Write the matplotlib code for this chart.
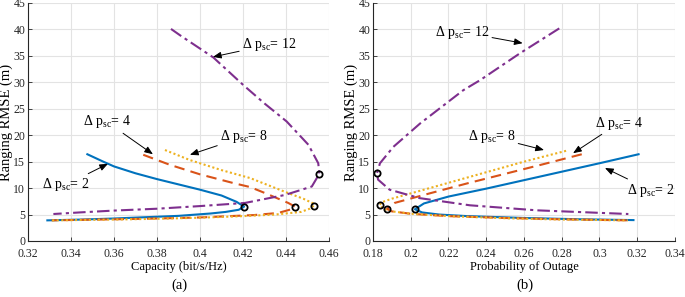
import matplotlib
matplotlib.use("Agg")
import matplotlib.pyplot as plt

plt.rcParams['font.family'] = ['Liberation Serif', 'DejaVu Serif']
plt.rcParams['mathtext.fontset'] = 'custom'
plt.rcParams['mathtext.rm'] = 'Liberation Serif'
plt.rcParams['mathtext.it'] = 'Liberation Serif:italic'

# ---------------- data: panel (a) Capacity vs RMSE ----------------
cap_p2 = [0.3476, 0.355, 0.36, 0.37, 0.38, 0.39, 0.40, 0.41, 0.417, 0.4205,
          0.418, 0.412, 0.405, 0.39, 0.375, 0.36, 0.345, 0.329]
rmse_a_p2 = [16.4, 15.0, 14.1, 12.8, 11.7, 10.7, 9.7, 8.6, 7.4, 6.5,
             5.9, 5.5, 5.2, 4.75, 4.5, 4.25, 4.05, 3.9]
cap_p4 = [0.3736, 0.386, 0.40, 0.416, 0.4233, 0.43, 0.441, 0.4442,
          0.4425, 0.4364, 0.425, 0.40, 0.38, 0.36, 0.345, 0.331]
rmse_a_p4 = [16.3, 14.4, 12.6, 10.9, 10.2, 9.1, 7.2, 6.5,
             6.0, 5.3, 4.9, 4.45, 4.25, 4.1, 4.0, 3.9]
cap_p8 = [0.3837, 0.3953, 0.41, 0.4233, 0.4395, 0.448, 0.4527, 0.453,
          0.451, 0.447, 0.435, 0.42, 0.40, 0.38, 0.36, 0.345, 0.331]
rmse_a_p8 = [17.2, 15.3, 13.4, 11.9, 9.3, 8.0, 7.1, 6.7,
             6.1, 5.5, 5.0, 4.7, 4.4, 4.2, 4.05, 3.97, 3.9]
cap_p12 = [0.3865, 0.3907, 0.4062, 0.4201, 0.43, 0.4403, 0.4504, 0.455, 0.4555,
           0.452, 0.4395, 0.421, 0.40, 0.38, 0.36, 0.344, 0.3318]
rmse_a_p12 = [40.1, 38.9, 34.7, 29.5, 26.0, 22.6, 18.2, 14.7, 12.7,
              10.3, 8.7, 7.2, 6.6, 6.1, 5.75, 5.4, 5.1]
mark_cap = [0.4205, 0.4442, 0.453, 0.4555]
mark_rmse_a = [6.5, 6.5, 6.7, 12.7]

# ---------------- data: panel (b) Outage vs RMSE ----------------
out_p2 = [0.3207, 0.30, 0.28, 0.26, 0.24, 0.22, 0.207, 0.2022,
          0.206, 0.215, 0.23, 0.26, 0.29, 0.318]
rmse_b_p2 = [16.4, 14.7, 13.1, 11.5, 9.9, 8.4, 7.1, 6.0,
             5.4, 5.0, 4.7, 4.35, 4.1, 3.95]
out_p4 = [0.2906, 0.27, 0.25, 0.23, 0.21, 0.1915, 0.1874,
          0.19, 0.20, 0.22, 0.25, 0.28, 0.315]
rmse_b_p4 = [16.4, 14.5, 12.7, 10.9, 9.0, 7.2, 6.06,
             5.6, 5.15, 4.7, 4.35, 4.1, 3.9]
out_p8 = [0.2823, 0.26, 0.24, 0.22, 0.20, 0.19, 0.1845, 0.1835,
          0.186, 0.19, 0.20, 0.22, 0.25, 0.28, 0.315]
rmse_b_p8 = [17.05, 15.0, 13.0, 11.0, 9.0, 8.0, 7.3, 6.75,
             6.0, 5.6, 5.15, 4.7, 4.3, 4.05, 3.9]
out_p12 = [0.2787, 0.2579, 0.2367, 0.2278, 0.2049, 0.1908, 0.1837, 0.1821,
           0.1827, 0.1888, 0.2048, 0.2313, 0.2667, 0.3153]
rmse_b_p12 = [40.2, 35.5, 30.4, 28.5, 22.2, 17.8, 14.7, 12.8,
              11.6, 9.7, 8.1, 6.75, 5.8, 5.1]
mark_out = [0.2022, 0.1874, 0.1835, 0.1821]
mark_rmse_b = [6.0, 6.06, 6.75, 12.8]

labels = [r'$\Delta$ p$_{\rm sc}$= 2', r'$\Delta$ p$_{\rm sc}$= 4',
          r'$\Delta$ p$_{\rm sc}$= 8', r'$\Delta$ p$_{\rm sc}$= 12']

colors = ['#0072BD', '#D95319', '#EDB120', '#7E2F8E']
styles = ['-', (0, (5, 3)), (0, (1, 1.2)), (0, (6, 2, 1.5, 2))]

fig = plt.figure(figsize=(6.85, 2.97), dpi=100)
axa = fig.add_axes([0.0409, 0.1886, 0.4394, 0.8013])
axb = fig.add_axes([0.5445, 0.1886, 0.4409, 0.8013])

def style_axes(ax, xlim, xticks, xlabel):
    ax.set_xlim(*xlim)
    ax.set_ylim(0, 45)
    ax.set_xticks(xticks)
    ax.set_xticklabels([('%g' % t) for t in xticks])
    ax.set_yticks(range(0, 46, 5))
    ax.grid(True, color='#e3e3e3', linewidth=0.8)
    ax.set_axisbelow(True)
    for s in ['top', 'right']:
        ax.spines[s].set_visible(False)
    for s in ['left', 'bottom']:
        ax.spines[s].set_linewidth(0.8)
        ax.spines[s].set_color('#262626')
    ax.tick_params(direction='in', length=3, width=0.6, labelsize=8.5,
                   colors='#262626')
    ax.tick_params(axis='x', pad=5)
    ax.tick_params(axis='y', pad=2)
    ax.set_xlabel(xlabel, fontsize=9, labelpad=1)
    ax.set_ylabel('Ranging RMSE (m)', fontsize=10.5, labelpad=0)

style_axes(axa, (0.32, 0.46), [0.32, 0.34, 0.36, 0.38, 0.40, 0.42, 0.44, 0.46],
           'Capacity (bit/s/Hz)')
style_axes(axb, (0.18, 0.34), [0.18, 0.20, 0.22, 0.24, 0.26, 0.28, 0.30, 0.32, 0.34],
           'Probability of Outage')

data_a = [(cap_p2, rmse_a_p2), (cap_p4, rmse_a_p4), (cap_p8, rmse_a_p8), (cap_p12, rmse_a_p12)]
data_b = [(out_p2, rmse_b_p2), (out_p4, rmse_b_p4), (out_p8, rmse_b_p8), (out_p12, rmse_b_p12)]
for (x, y), c, ls in zip(data_a, colors, styles):
    axa.plot(x, y, color=c, linestyle=ls, linewidth=1.5)
for (x, y), c, ls in zip(data_b, colors, styles):
    axb.plot(x, y, color=c, linestyle=ls, linewidth=1.5)
for ax, mx, my in [(axa, mark_cap, mark_rmse_a), (axb, mark_out, mark_rmse_b)]:
    ax.plot(mx, my, linestyle='none', marker='o', markersize=4.5,
            markerfacecolor='none', markeredgecolor='black', markeredgewidth=1.3)

arrow = dict(arrowstyle='-|>,head_length=0.5,head_width=0.2', color='black',
             linewidth=0.7, shrinkA=0, shrinkB=0)
# annotations: (label index, text position, arrow tip)
ann_a = [(3, (0.4195, 37.1), (0.406, 34.8)),
         (1, (0.3456, 22.5), (0.3781, 16.4)),
         (2, (0.4093, 19.7), (0.3953, 16.3)),
         (0, (0.3265, 10.6), (0.3572, 14.6))]
ann_b = [(3, (0.2128, 39.5), (0.2593, 37.4)),
         (2, (0.2303, 19.7), (0.2706, 17.2)),
         (1, (0.2976, 22.3), (0.286, 16.6)),
         (0, (0.3146, 9.6), (0.3029, 13.8))]
for ax, anns in [(axa, ann_a), (axb, ann_b)]:
    for i, txy, tip in anns:
        ax.annotate(labels[i], xy=tip, xytext=txy, fontsize=10,
                    ha='left', va='center', arrowprops=arrow, annotation_clip=False)

fig.text(0.262, 0.04, '(a)', fontsize=10.5, ha='center', va='center')
fig.text(0.766, 0.04, '(b)', fontsize=10.5, ha='center', va='center')

fig.savefig('out.png', dpi=100)
